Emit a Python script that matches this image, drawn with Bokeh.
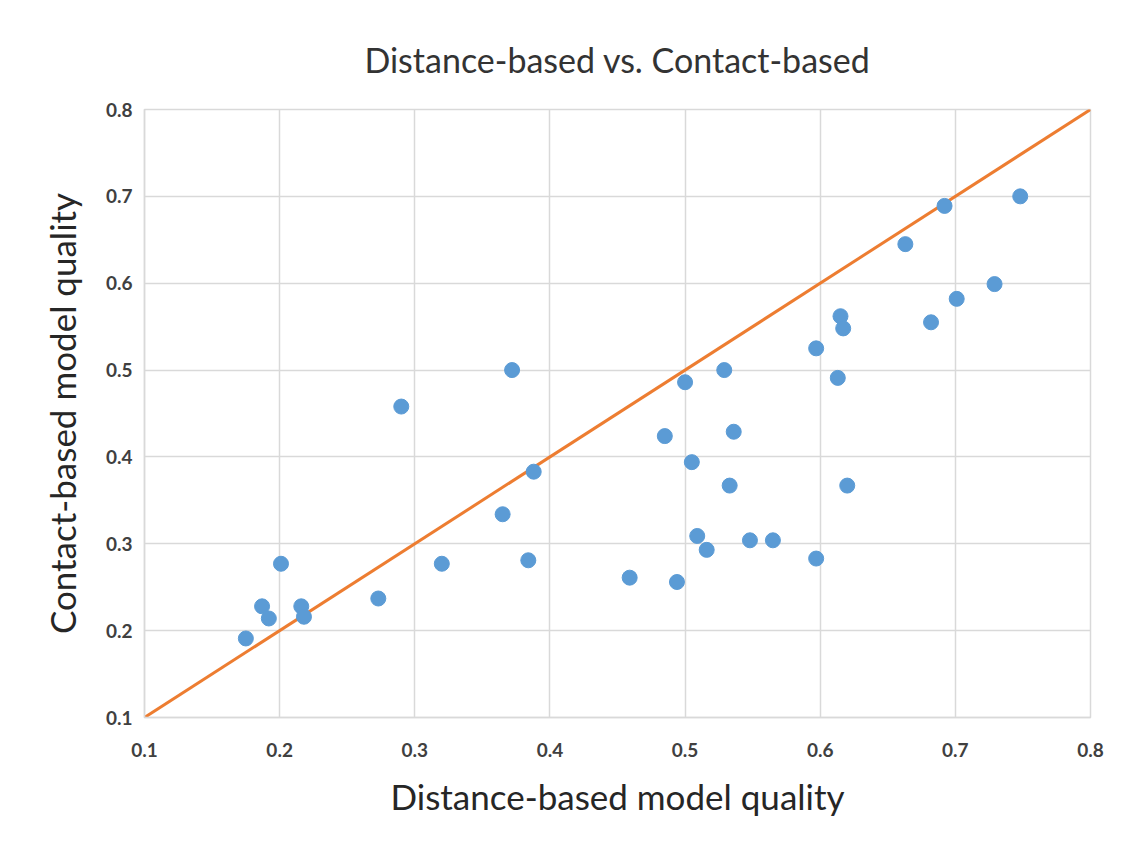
from bokeh.plotting import figure
from bokeh.models import Range1d, FixedTicker
from bokeh.embed import file_html
from bokeh.resources import INLINE

distance_quality = [0.175, 0.187, 0.192, 0.201, 0.216, 0.218, 0.273, 0.290, 0.320, 0.365,
                    0.372, 0.384, 0.388, 0.459, 0.485, 0.494, 0.500, 0.505, 0.509, 0.516,
                    0.529, 0.533, 0.536, 0.548, 0.565, 0.597, 0.597, 0.613, 0.615, 0.617,
                    0.620, 0.663, 0.682, 0.692, 0.701, 0.729, 0.748]
contact_quality = [0.191, 0.228, 0.214, 0.277, 0.228, 0.216, 0.237, 0.458, 0.277, 0.334,
                   0.500, 0.281, 0.383, 0.261, 0.424, 0.256, 0.486, 0.394, 0.309, 0.293,
                   0.500, 0.367, 0.429, 0.304, 0.304, 0.283, 0.525, 0.491, 0.562, 0.548,
                   0.367, 0.645, 0.555, 0.689, 0.582, 0.599, 0.700]
diag = [0.1, 0.8]
ticks = [0.1, 0.2, 0.3, 0.4, 0.5, 0.6, 0.7, 0.8]

FONT = "Lato"

p = figure(width=1143, height=841, output_backend="svg", toolbar_location=None,
           x_range=Range1d(0.1, 0.8), y_range=Range1d(0.1, 0.8),
           title="Distance-based vs. Contact-based",
           min_border_left=144, min_border_right=53, min_border_top=109, min_border_bottom=124)

p.title.align = "center"
p.title.text_font = FONT
p.title.text_font_size = "34px"
p.title.text_font_style = "normal"
p.title.text_color = "#333333"
p.title.standoff = 60

for ax in (p.xaxis[0], p.yaxis[0]):
    ax.ticker = FixedTicker(ticks=ticks)
    ax.major_tick_line_color = None
    ax.minor_tick_line_color = None
    ax.axis_line_color = "#d9d9d9"
    ax.axis_line_width = 1.5
    ax.major_label_text_font = FONT
    ax.major_label_text_font_size = "19px"
    ax.major_label_text_font_style = "bold"
    ax.major_label_text_color = "#404040"
    ax.axis_label_text_font = FONT
    ax.axis_label_text_font_size = "35px"
    ax.axis_label_text_font_style = "normal"
    ax.axis_label_text_color = "#262626"

p.xaxis.axis_label = "Distance-based model quality"
p.yaxis.axis_label = "Contact-based model quality"
p.xaxis.major_label_standoff = 19
p.yaxis.major_label_standoff = 6
p.xaxis.axis_label_standoff = 15
p.yaxis.axis_label_standoff = 20

p.grid.grid_line_color = "#d9d9d9"
p.grid.grid_line_width = 1.5
p.outline_line_color = "#d9d9d9"
p.outline_line_width = 1.5

p.line(diag, diag, line_color="#ed7d31", line_width=3)
p.scatter(distance_quality, contact_quality, size=15, fill_color="#5b9bd5",
          line_color="#5b9bd5")

open("out.html", "w").write(file_html(p, INLINE))
